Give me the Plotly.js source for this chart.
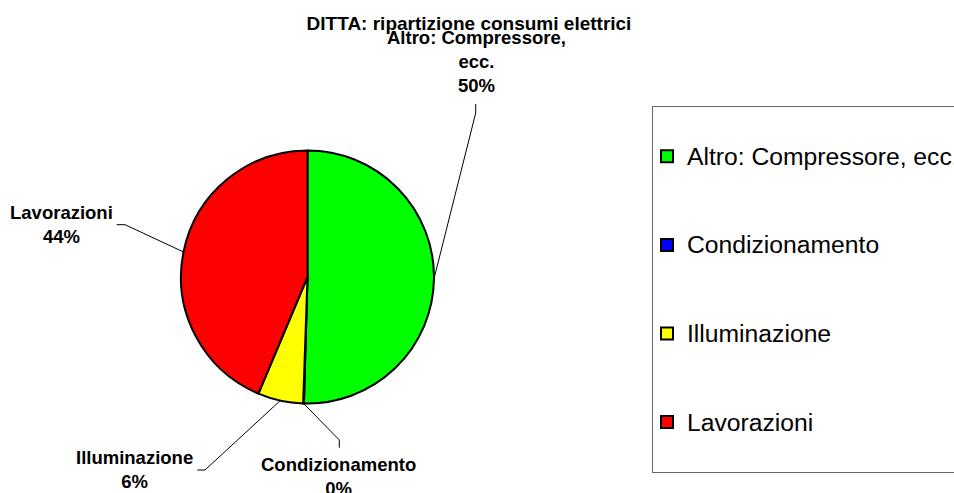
<!DOCTYPE html>
<html><head><meta charset="utf-8">
<script src="https://cdn.plot.ly/plotly-3.0.1.min.js"></script>
<style>html,body{margin:0;padding:0;background:#fff}#chart{width:954px;height:493px}</style>
</head><body><div id="chart"></div>
<script>
// ---- data ----
const categories = ['Altro: Compressore, ecc.', 'Condizionamento', 'Illuminazione', 'Lavorazioni'];
const sliceLabels = ['Altro: Compressore,<br>ecc.', 'Condizionamento', 'Illuminazione', 'Lavorazioni'];
const values = [50.5, 0.1, 5.8, 43.7];
const colors = ['#00FF00', '#0000FF', '#FFFF00', '#FF0000'];
const chartTitle = 'DITTA: ripartizione consumi elettrici';

// ---- geometry helpers (pixels -> paper) ----
const W = 954, H = 493;
const px = x => x / W, py = y => 1 - y / H;
const cx = 307.5, cy = 277, R = 126.5;

// label placement: center x, top of text box, leader line points after the pie edge
const labelPlace = [
  {x: 476,   top: 25.3,  pts: [[475.7, 113], [475.7, 104]]},
  {x: 338.5, top: 452,   pts: [[339.3, 440], [339.3, 447.7]]},
  {x: 134,   top: 444.6, pts: [[205, 470], [197.3, 470]]},
  {x: 61.5,  top: 199.6, pts: [[125, 224.7], [116.7, 224.7]]}
];

const total = values.reduce((a, b) => a + b, 0);
let cum = 0;
const annotations = [], shapes = [];
const boldFont = {family: 'Liberation Sans, Arial, sans-serif', size: 18.5, color: '#000', weight: 'bold'};
values.forEach((v, i) => {
  const mid = (cum + v / 2) / total * 2 * Math.PI;
  cum += v;
  const ex = cx + R * Math.sin(mid), ey = cy - R * Math.cos(mid);
  const p = labelPlace[i];
  let d = 'M ' + px(ex) + ' ' + py(ey);
  p.pts.forEach(q => { d += ' L ' + px(q[0]) + ' ' + py(q[1]); });
  shapes.push({type: 'path', xref: 'paper', yref: 'paper', path: d, line: {color: '#000', width: 1}});
  annotations.push({
    xref: 'paper', yref: 'paper', x: px(p.x), y: py(p.top), xanchor: 'center', yanchor: 'top',
    text: sliceLabels[i] + '<br>' + Math.round(v / total * 100) + '%',
    showarrow: false, align: 'center', font: boldFont
  });
});

const legendNames = categories.map(c => '\u00a0<br><span style="font-size:24.7px">' + c + '</span><br>\u00a0');

const trace = {
  type: 'pie', labels: legendNames, values: values, sort: false,
  direction: 'clockwise', rotation: 0,
  marker: {colors: colors, line: {color: '#000', width: 2}},
  textinfo: 'none', hoverinfo: 'skip',
  domain: {x: [px(cx - R), px(cx + R)], y: [py(cy + R), py(cy - R)]}
};

const layout = {
  width: W, height: H,
  margin: {l: 0, r: 0, t: 0, b: 0, autoexpand: false},
  paper_bgcolor: '#fff', plot_bgcolor: '#fff',
  showlegend: true,
  legend: {
    x: px(652), y: py(106), xanchor: 'left', yanchor: 'top',
    font: {family: 'Liberation Sans, Arial, sans-serif', size: 21.95, color: '#000'},
    indentation: -6,
    bordercolor: '#666', borderwidth: 1, bgcolor: 'rgba(0,0,0,0)'
  },
  title: {
    text: chartTitle, x: px(469), xanchor: 'center', y: py(23), yanchor: 'middle',
    font: {family: 'Liberation Sans, Arial, sans-serif', size: 19, color: '#000', weight: 'bold'}
  },
  annotations: annotations,
  shapes: shapes
};

Plotly.newPlot('chart', [trace], layout, {displayModeBar: false, staticPlot: true});
</script>
</body></html>
